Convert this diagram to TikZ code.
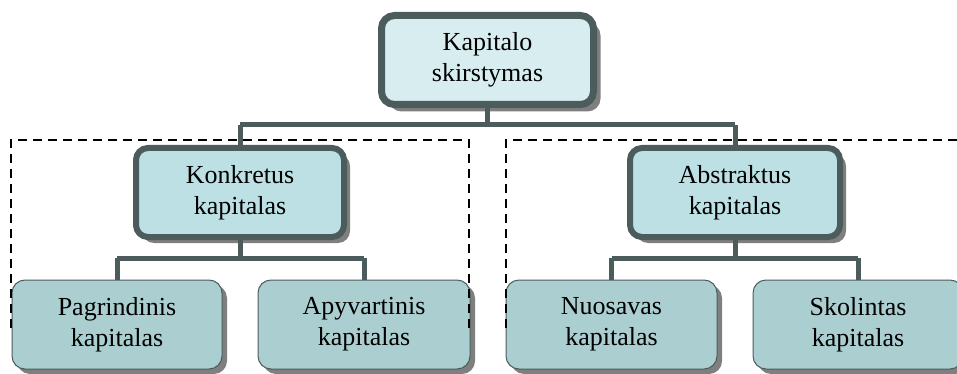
\documentclass[tikz,border=0pt]{standalone}
\usepackage{fontspec}
\setmainfont{Liberation Serif}
\usetikzlibrary{shadows}
\definecolor{edge}{HTML}{4C5B5B}
\definecolor{topfill}{HTML}{D7EDF0}
\definecolor{midfill}{HTML}{BCE0E4}
\definecolor{lowfill}{HTML}{ABCFD1}
\definecolor{shade}{HTML}{7F7F7F}
\tikzset{
  txt/.style={font=\fontsize{26}{31}\selectfont, align=center, inner sep=0pt},
  topbox/.style={txt, draw=edge, line width=7pt, fill=topfill, rounded corners=13pt,
    minimum width=212pt, minimum height=89pt,
    drop shadow={shadow xshift=7pt, shadow yshift=-7pt, opacity=1, fill=shade}},
  midbox/.style={txt, draw=edge, line width=6pt, fill=midfill, rounded corners=12pt,
    minimum width=208pt, minimum height=89pt,
    drop shadow={shadow xshift=6pt, shadow yshift=-6pt, opacity=1, fill=shade}},
  lowbox/.style={txt, draw=edge, line width=1pt, fill=lowfill, rounded corners=13pt,
    minimum width=210pt, minimum height=89pt,
    drop shadow={shadow xshift=5pt, shadow yshift=-5pt, opacity=1, fill=shade}},
  conn/.style={draw=edge, line width=5pt},
  group/.style={draw=black, line width=1.8pt, dash pattern=on 9pt off 6pt}
}
\begin{document}
\begin{tikzpicture}[x=1pt,y=-1pt]
\useasboundingbox (0,0) rectangle (957,374);
% connectors
\coordinate (j0) at (487.5,125);
\coordinate (jl) at (240,125);
\coordinate (jr) at (735,125);
\coordinate (kl) at (240,258);
\coordinate (kr) at (735,258);
\coordinate (kll) at (117,258);
\coordinate (klr) at (364,258);
\coordinate (krl) at (611.5,258);
\coordinate (krr) at (858,258);
% nodes (drawn after connectors to cover ends)
\node[topbox] (top) at (487.5,60) {Kapitalo\\skirstymas};
\node[midbox] (konk) at (240,192.5) {Konkretus\\kapitalas};
\node[midbox, minimum width=210pt] (abs) at (735,192.5) {Abstraktus\\kapitalas};
\node[lowbox] (pag) at (117,324.5) {Pagrindinis\\kapitalas};
\node[lowbox, minimum width=212pt] (apy) at (364,324.5) {Apyvartinis\\kapitalas};
\node[lowbox, minimum width=211pt] (nuo) at (611.5,324.5) {Nuosavas\\kapitalas};
\node[lowbox] (sko) at (858,324.5) {Skolintas\\kapitalas};
% tree lines
\draw[conn] (top.south) -- (j0);
\draw[conn] (jl) -- (jr);
\draw[conn] (jl) -- (konk.north);
\draw[conn] (jr) -- (abs.north);
\draw[conn] (konk.south) -- (kl);
\draw[conn] (abs.south) -- (kr);
\draw[conn] (kll) -- (klr);
\draw[conn] (krl) -- (krr);
\draw[conn] (kll) -- (pag.north);
\draw[conn] (klr) -- (apy.north);
\draw[conn] (krl) -- (nuo.north);
\draw[conn] (krr) -- (sko.north);
% dashed groups
\draw[group] (11,328) -- (11,140) -- (469,140) -- (469,328);
\draw[group] (506,328) -- (506,140) -- (960,140);
\end{tikzpicture}
\end{document}
